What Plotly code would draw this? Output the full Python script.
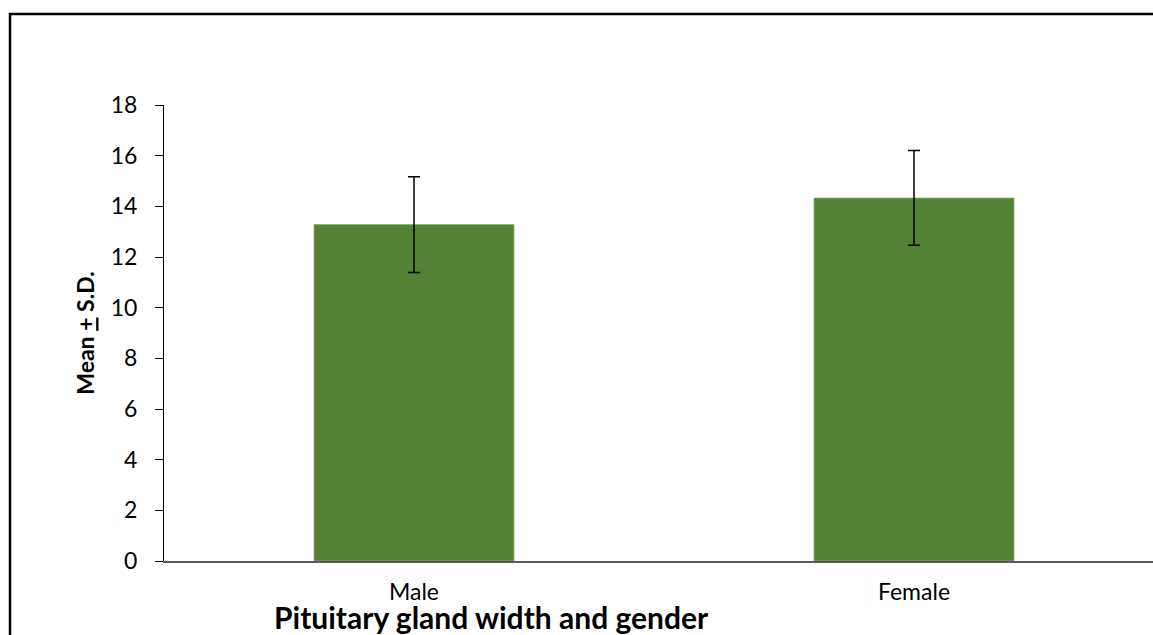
import plotly.graph_objects as go

categories = ["Male", "Female"]
means = [13.28, 14.33]
sds = [1.89, 1.87]
y_ticks = [0, 2, 4, 6, 8, 10, 12, 14, 16, 18]

FONT = "Lato"

fig = go.Figure()
fig.add_trace(go.Bar(
    x=[0, 1],
    y=means,
    width=0.4,
    marker=dict(color="#548235", line=dict(width=0.8, color="#8fb07a")),
    error_y=dict(type="data", array=sds, visible=True, color="black", thickness=1.5, width=6),
    showlegend=False,
))

fig.update_layout(
    width=1153, height=635,
    margin=dict(l=164, r=0, t=105, b=74),
    paper_bgcolor="white", plot_bgcolor="white",
    font=dict(family=FONT, size=22, color="black"),
    xaxis=dict(
        range=[-0.5, 1.478],
        tickmode="array", tickvals=[0, 1], ticktext=categories,
        showline=True, linecolor="#595959", linewidth=1.5,
        ticks="", showgrid=False, zeroline=False,
        tickfont=dict(family=FONT, size=23, color="black"),
        ticklabelstandoff=10,
    ),
    yaxis=dict(
        range=[0, 18],
        tickmode="array", tickvals=y_ticks,
        showline=True, linecolor="black", linewidth=1,
        ticks="outside", ticklen=8, tickcolor="black", tickwidth=1,
        showgrid=False, zeroline=False,
        tickfont=dict(family=FONT, size=23, color="black"),
        ticklabelstandoff=13,
        title=dict(text="<b>Mean <span style='text-decoration:underline'>+</span> S.D.</b>",
                   font=dict(family=FONT, size=23, color="black"), standoff=9),
    ),
    shapes=[dict(type="rect", xref="paper", yref="paper",
                 x0=(10 - 164) / 989, x1=1.05, y0=-0.3, y1=(561 - 14) / 456,
                 line=dict(color="black", width=2.5), fillcolor="rgba(0,0,0,0)")],
    annotations=[dict(text="<b>Pituitary gland width and gender</b>", xref="paper", yref="paper",
                      x=(491 - 164) / 989, y=(561 - 617) / 456, xanchor="center", yanchor="middle",
                      showarrow=False, font=dict(family=FONT, size=30, color="black"))],
)

fig.write_html("out.html", config={"displayModeBar": False},
               post_script="document.body.style.margin='0';document.body.style.overflow='hidden';")
